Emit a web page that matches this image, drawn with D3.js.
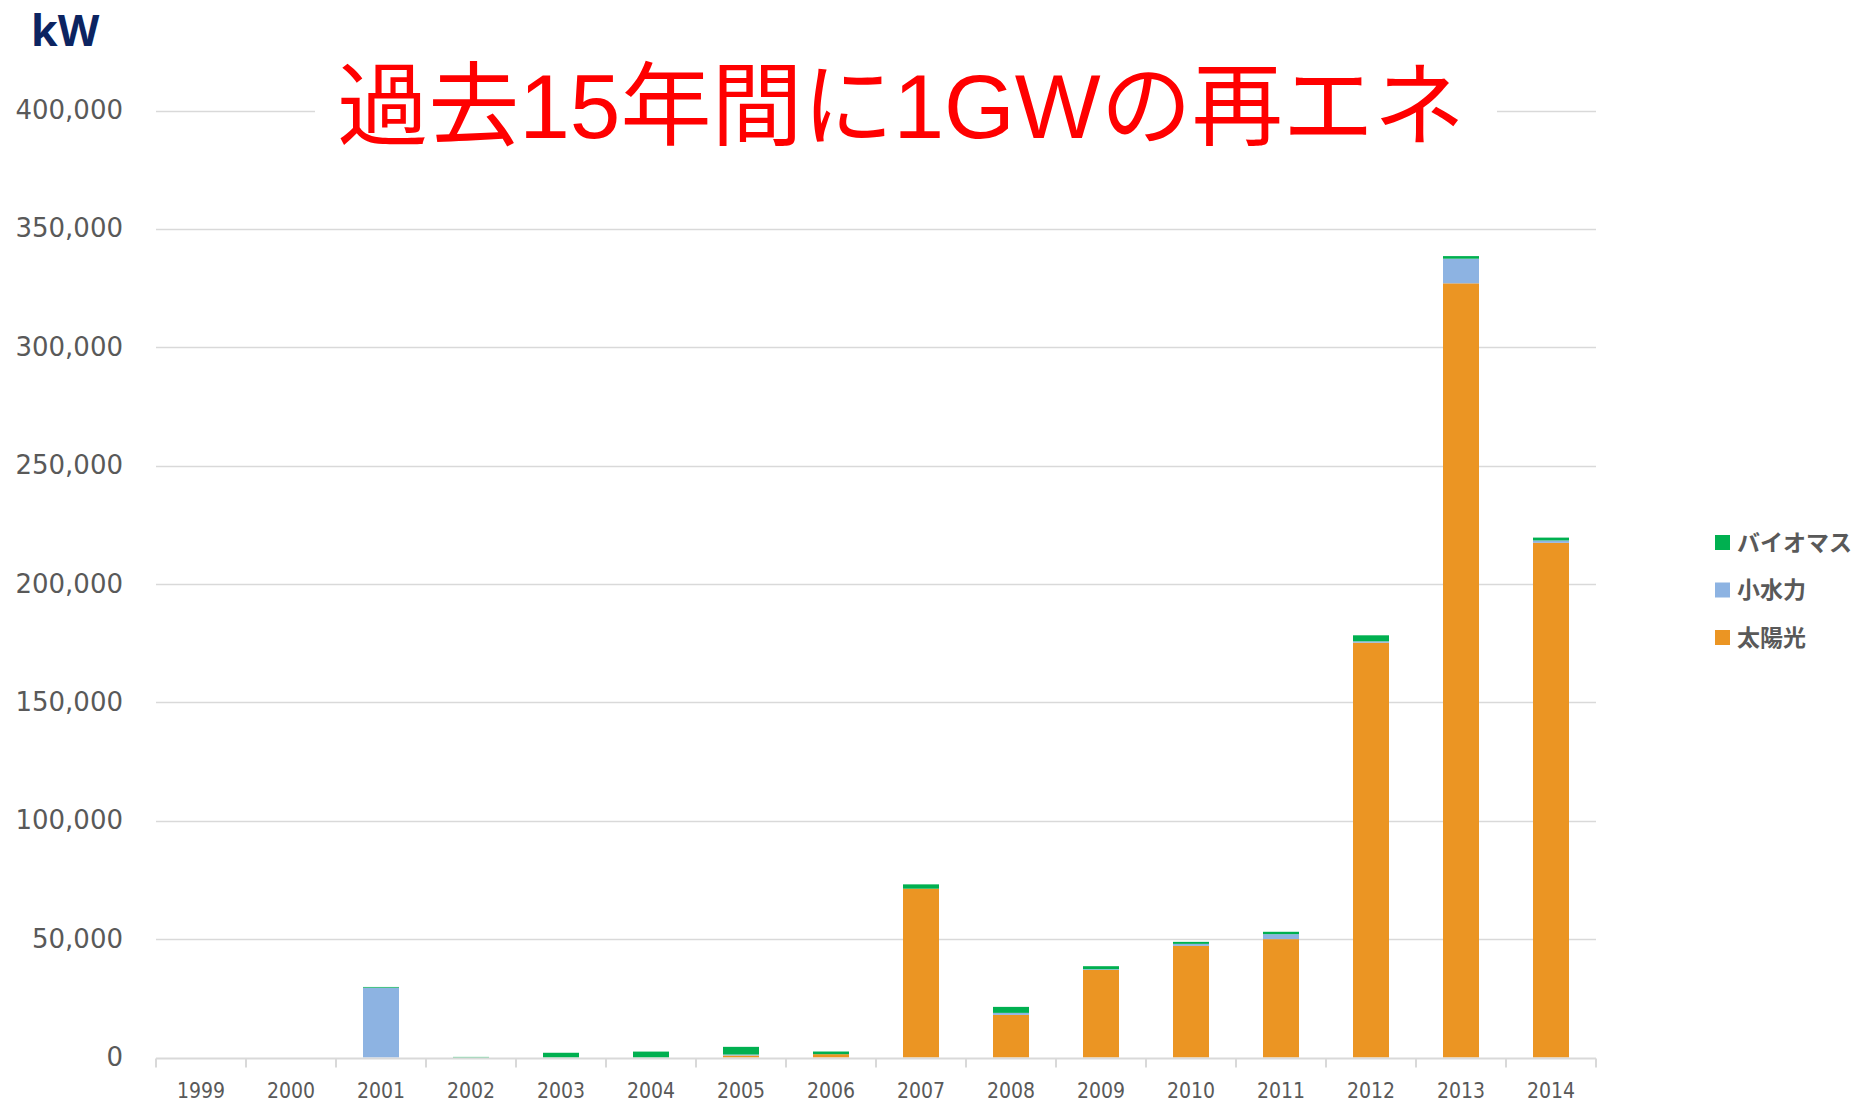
<!DOCTYPE html>
<html>
<head>
<meta charset="utf-8">
<script src="https://cdn.jsdelivr.net/npm/d3@7"></script>
<style>
  html, body { margin: 0; padding: 0; background: #fff; }
  svg { display: block; }
</style>
</head>
<body>
<div id="chart"></div>
<script>
// data (kW added per year)
const years = ['1999', '2000', '2001', '2002', '2003', '2004', '2005', '2006',
  '2007', '2008', '2009', '2010', '2011', '2012', '2013', '2014'];
const solar = [0, 0, 0, 0, 0, 0, 850, 1400, 71300, 18000, 37000, 47150, 50000, 175200, 327000, 217400];
const smallHydro = [0, 0, 29500, 0, 0, 0, 400, 0, 0, 850, 300, 850, 2100, 600, 10400, 1000];
const biomass = [0, 0, 300, 250, 2000, 2500, 3250, 1130, 1830, 2530, 1270, 850, 1000, 2530, 1100, 1200];

const seriesNames = ['太陽光', '小水力', 'バイオマス'];
const legendOrder = ['バイオマス', '小水力', '太陽光'];
const colors = {'太陽光': '#eb9523', '小水力': '#8db3e2', 'バイオマス': '#00b050'};
const yTicks = [0, 50000, 100000, 150000, 200000, 250000, 300000, 350000, 400000];

const title = '過去15年間に1GWの再エネ';
const unit = 'kW';

const width = 1872;
const height = 1103;

const rows = years.map((yr, i) => ({
  year: yr,
  '太陽光': solar[i],
  '小水力': smallHydro[i],
  'バイオマス': biomass[i]
}));

const stacked = d3.stack().keys(seriesNames)(rows);

const x = d3.scaleBand()
  .domain(years)
  .range([156, 1596])
  .paddingInner(0.6)
  .paddingOuter(0.3);

const y = d3.scaleLinear()
  .domain([0, 400000])
  .range([1057.5, 110.5]);

const svg = d3.select('#chart')
  .append('svg')
  .attr('width', width)
  .attr('height', height);

svg.append('rect')
  .attr('width', width)
  .attr('height', height)
  .attr('fill', '#fff');

// gridlines
svg.append('g')
  .selectAll('line')
  .data(yTicks.filter(d => d > 0))
  .enter().append('line')
    .attr('x1', 156)
    .attr('x2', 1596)
    .attr('y1', d => Math.round(y(d)) + 0.5)
    .attr('y2', d => Math.round(y(d)) + 0.5)
    .attr('stroke', '#d9d9d9')
    .attr('stroke-width', 1.6);

// y labels
svg.append('g')
  .selectAll('text')
  .data(yTicks)
  .enter().append('text')
    .attr('x', 123)
    .attr('y', d => y(d))
    .attr('dy', '0.33em')
    .attr('text-anchor', 'end')
    .attr('font-family', '"DejaVu Sans", sans-serif')
    .attr('font-size', 26)
    .attr('fill', '#595959')
    .text(d => d3.format(',')(d));

// bars
svg.append('g')
  .selectAll('g')
  .data(stacked)
  .enter().append('g')
    .attr('fill', d => colors[d.key])
  .selectAll('rect')
  .data(d => d)
  .enter().append('rect')
    .attr('x', d => x(d.data.year))
    .attr('width', x.bandwidth())
    .attr('y', d => y(d[1]))
    .attr('height', d => Math.max(0, y(d[0]) - y(d[1])));

// x axis line and ticks at category boundaries
const step = x.step();
const bounds = years.map(yr => x(yr) - step * x.paddingOuter());
bounds.push(x(years[years.length - 1]) + x.bandwidth() + step * x.paddingOuter());

const axisG = svg.append('g');
axisG.append('line')
  .attr('x1', bounds[0])
  .attr('x2', bounds[bounds.length - 1])
  .attr('y1', y(0) + 1)
  .attr('y2', y(0) + 1)
  .attr('stroke', '#d9d9d9')
  .attr('stroke-width', 2);

axisG.selectAll('.tick')
  .data(bounds)
  .enter().append('line')
    .attr('class', 'tick')
    .attr('x1', d => d)
    .attr('x2', d => d)
    .attr('y1', y(0) + 1)
    .attr('y2', y(0) + 10)
    .attr('stroke', '#d9d9d9')
    .attr('stroke-width', 2);

axisG.selectAll('.xlab')
  .data(years)
  .enter().append('text')
    .attr('class', 'xlab')
    .attr('x', d => x(d) + x.bandwidth() / 2)
    .attr('y', 1098)
    .attr('text-anchor', 'middle')
    .attr('font-family', '"DejaVu Sans Condensed", "DejaVu Sans", sans-serif')
    .attr('font-stretch', 'condensed')
    .attr('font-size', 21)
    .attr('fill', '#595959')
    .text(d => d);

// unit label
svg.append('text')
  .attr('x', 31)
  .attr('y', 46)
  .attr('font-family', '"Open Sans", sans-serif')
  .attr('font-weight', 'bold')
  .attr('font-size', 43)
  .attr('fill', '#0c2461')
  .text(unit);

// title box over the top gridline
svg.append('rect')
  .attr('x', 315)
  .attr('y', 55)
  .attr('width', 1497 - 315)
  .attr('height', 100)
  .attr('fill', '#fff');

svg.append('text')
  .attr('x', 901)
  .attr('y', 138)
  .attr('text-anchor', 'middle')
  .attr('font-family', '"Liberation Sans", "Noto Sans CJK JP", sans-serif')
  .attr('font-size', 91)
  .attr('fill', '#ff0000')
  .text(title);

// legend
const legend = svg.append('g')
  .selectAll('g')
  .data(legendOrder)
  .enter().append('g')
    .attr('transform', (d, i) => `translate(1715,${542.5 + i * 47.5})`);

legend.append('rect')
  .attr('x', 0)
  .attr('y', -7.5)
  .attr('width', 15)
  .attr('height', 15)
  .attr('fill', d => colors[d]);

legend.append('text')
  .attr('x', 22)
  .attr('y', 0)
  .attr('dy', '0.36em')
  .attr('font-family', '"Noto Sans CJK JP", sans-serif')
  .attr('font-weight', 'bold')
  .attr('font-size', 23)
  .attr('fill', '#595959')
  .text(d => d);
</script>
</body>
</html>
